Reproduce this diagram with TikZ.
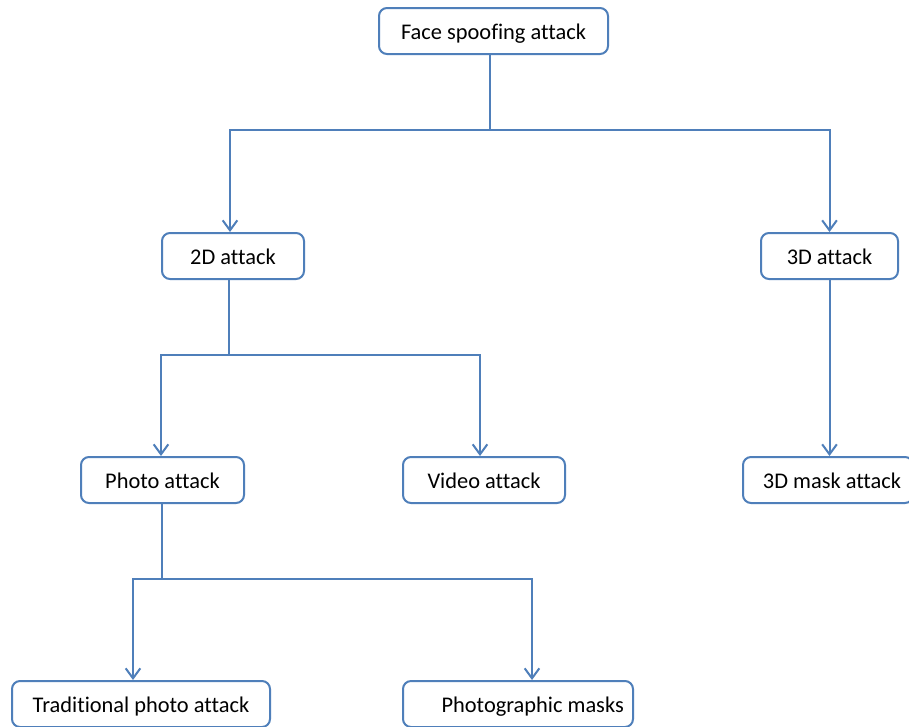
\documentclass[tikz,border=0pt]{standalone}
\usepackage{fontspec}
\setmainfont{Carlito}[Ligatures=NoCommon]
\usepackage{xcolor}
\usepackage{tikz}
\usetikzlibrary{arrows.meta}
\definecolor{boxblue}{HTML}{4F7FBA}

\begin{document}
\begin{tikzpicture}[x=0.75pt,y=-0.75pt,
  box/.style={draw=boxblue, line width=1.5pt, rounded corners=6pt, minimum height=34.5pt, inner sep=0pt, text height=13pt, text depth=1pt, font=\fontsize{16.8}{19}\selectfont},
  link/.style={draw=boxblue, line width=1.5pt},
  arr/.style={link, -{Straight Barb[length=7.5pt,width=11pt]}}]
\useasboundingbox[fill=white] (0,0) rectangle (909,726);
% boxes
\node[box, minimum width=171.75pt] (face) at (493.5,31) {Face spoofing attack};
\node[box, minimum width=106.5pt] (twoD) at (233,256) {2D attack};
\node[box, minimum width=102.75pt] (threeD) at (829.5,256) {3D attack};
\node[box, minimum width=122.25pt] (photo) at (162.5,480) {Photo attack};
\node[box, minimum width=121.5pt] (video) at (484,480) {Video attack};
\node[box, minimum width=127.5pt] (mask) at (828,480) {\hspace*{6pt}3D mask attack};
\node[box, minimum width=193.5pt] (trad) at (141,704) {Traditional photo attack};
\node[box, minimum width=172.5pt] (photomask) at (518,704) {\hspace*{22pt}Photographic masks};
% junctions
\coordinate (j1) at (490,130);
\coordinate (j2) at (229,355);
\coordinate (j3) at (162,579);
\draw[link] (face.south -| j1) -- (j1);
\draw[arr] (j1) -| (twoD.north -| 230,0);
\draw[arr] (j1) -| (threeD.north);
\draw[link] (twoD.south -| j2) -- (j2);
\draw[arr] (j2) -| (photo.north -| 161,0);
\draw[arr] (j2) -| (video.north -| 480,0);
\draw[arr] (threeD) -- (mask.north -| threeD);
\draw[link] (photo.south -| j3) -- (j3);
\draw[arr] (j3) -| (trad.north -| 133,0);
\draw[arr] (j3) -| (photomask.north -| 532,0);
\end{tikzpicture}
\end{document}
